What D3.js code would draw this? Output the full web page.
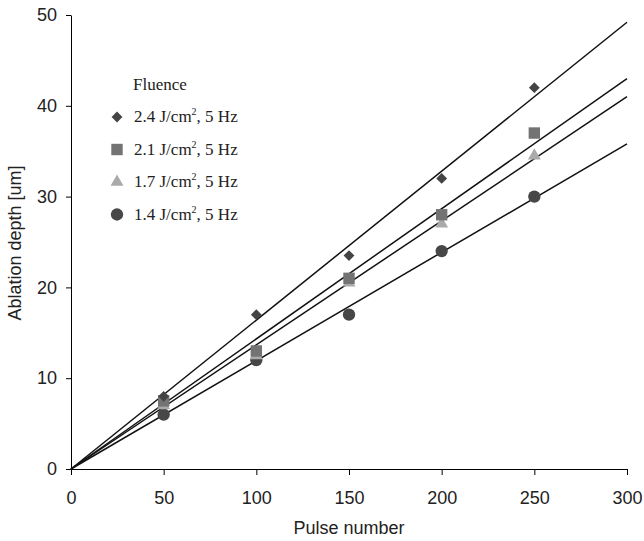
<!DOCTYPE html>
<html>
<head>
<meta charset="utf-8">
<script src="https://cdn.jsdelivr.net/npm/d3@7"></script>
<style>
  body { margin: 0; background: #fff; }
  .axis text { font-family: "Liberation Sans", Arial, sans-serif; font-size: 18px; fill: #222; }
  .axis path, .axis line { stroke: #000; }
  .legend text { font-family: "Liberation Serif", "Times New Roman", serif; font-size: 17px; fill: #222; }
</style>
</head>
<body>
<div id="chart"></div>
<script>
// pulse numbers on the x axis
var pulses = [50, 100, 150, 200, 250]

var seriesNames = ["2.4", "2.1", "1.7", "1.4"]
var seriesShapes = ["diamond", "square", "triangle", "circle"]
var seriesColors = ["#444", "#737373", "#aaa", "#474747"]

// ablation depth [um] per pulse number
var depth24 = [8, 17, 23.5, 32, 42]
var depth21 = [7.5, 13, 21, 28, 37]
var depth17 = [7, 12.5, 20.5, 27, 34.5]
var depth14 = [6, 12, 17, 24, 30]

// fitted lines through origin, depth at 300 pulses
var fitEnd = [49.2, 43.0, 41.0, 35.8]

var xTicks = [0, 50, 100, 150, 200, 250, 300]
var yTicks = [0, 10, 20, 30, 40, 50]

var allDepths = [depth24, depth21, depth17, depth14]

var W = 644, H = 541
var m = {left: 71, top: 15, right: 17, bottom: 72}
var w = W - m.left - m.right
var h = H - m.top - m.bottom

var svg = d3.select("#chart").append("svg").attr("width", W).attr("height", H)
var g = svg.append("g").attr("transform", "translate(" + m.left + "," + m.top + ")")

var x = d3.scaleLinear().domain([0, 300]).range([0, w])
var y = d3.scaleLinear().domain([0, 50]).range([h, 0])

g.append("g").attr("class", "axis")
  .attr("transform", "translate(0," + h + ")")
  .call(d3.axisBottom(x).tickValues(xTicks).tickSize(6).tickPadding(16).tickSizeOuter(0))

g.append("g").attr("class", "axis")
  .call(d3.axisLeft(y).tickValues(yTicks).tickSize(5).tickPadding(9).tickSizeOuter(0))

svg.append("text").text("Pulse number")
  .attr("x", m.left + w / 2).attr("y", 534)
  .attr("text-anchor", "middle")
  .style("font-family", "Liberation Sans, Arial, sans-serif").style("font-size", "18px").style("fill", "#222")

svg.append("text").text("Ablation depth [um]")
  .attr("transform", "translate(21,243) rotate(-90)")
  .attr("text-anchor", "middle")
  .style("font-family", "Liberation Sans, Arial, sans-serif").style("font-size", "18px").style("fill", "#222")

// fit lines
g.selectAll(".fit").data(fitEnd).enter().append("line")
  .attr("x1", x(0)).attr("y1", y(0))
  .attr("x2", x(300)).attr("y2", function(d) { return y(d) })
  .attr("stroke", "#111").attr("stroke-width", 1.5)

var symbols = {
  diamond: d3.symbol().type(d3.symbolDiamond2).size(75),
  square: d3.symbol().type(d3.symbolSquare).size(130),
  triangle: d3.symbol().type(d3.symbolTriangle).size(72),
  circle: d3.symbol().type(d3.symbolCircle).size(120)
}

// draw series from the last to the first so the diamonds sit on top
for (var s = allDepths.length - 1; s >= 0; s--) {
  g.append("g").selectAll("path").data(allDepths[s]).enter().append("path")
    .attr("d", symbols[seriesShapes[s]])
    .attr("transform", function(d, i) { return "translate(" + x(pulses[i]) + "," + y(d) + ")" })
    .attr("fill", seriesColors[s])
}

// legend
var legend = svg.append("g").attr("class", "legend")
legend.append("text").text("Fluence").attr("x", 133).attr("y", 90)
seriesNames.forEach(function(name, i) {
  var cy = 117 + i * 32.5
  legend.append("path")
    .attr("d", symbols[seriesShapes[i]])
    .attr("transform", "translate(117," + cy + ")")
    .attr("fill", seriesColors[i])
  var t = legend.append("text").attr("x", 134).attr("y", cy + 5)
  t.append("tspan").text(name + " J/cm")
  t.append("tspan").text("2").attr("dy", -7).style("font-size", "10px")
  t.append("tspan").text(", 5 Hz").attr("dy", 7)
})
</script>
</body>
</html>
